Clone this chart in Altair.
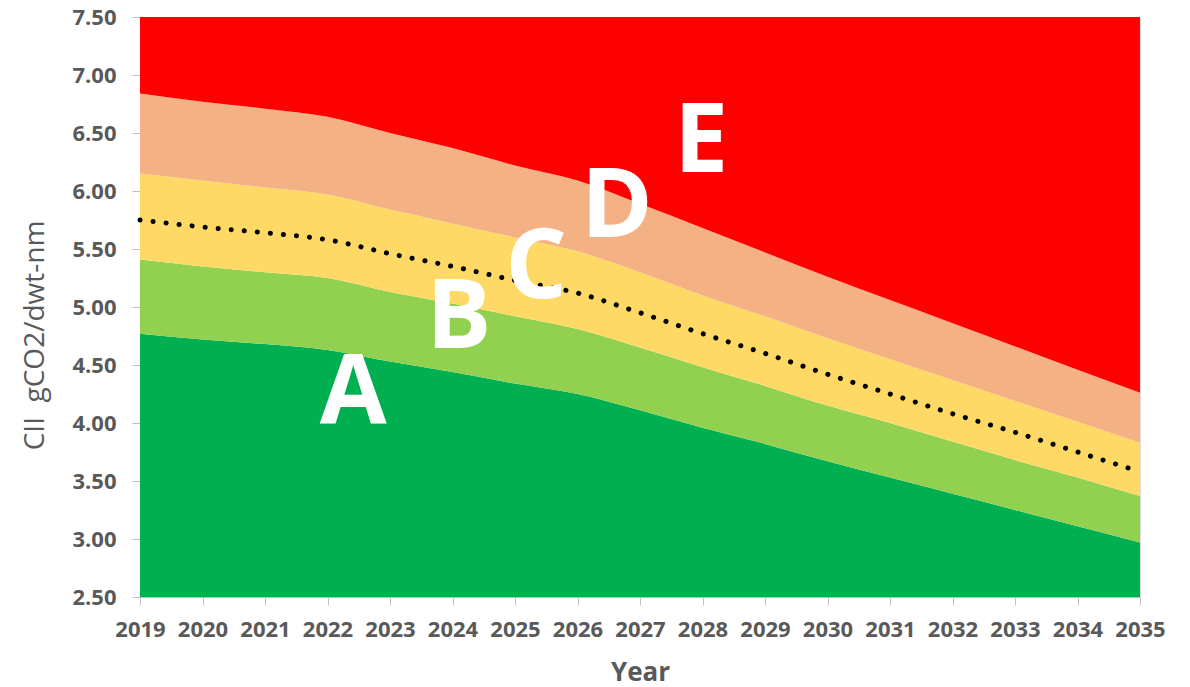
import altair as alt
import pandas as pd

years = list(range(2019, 2036))
required = [5.75, 5.69, 5.64, 5.58, 5.46, 5.35, 5.23, 5.12, 4.95, 4.77, 4.60, 4.42, 4.25, 4.08, 3.92, 3.75, 3.58]
a_upper = [4.77, 4.72, 4.68, 4.63, 4.53, 4.44, 4.34, 4.25, 4.11, 3.96, 3.82, 3.67, 3.53, 3.39, 3.25, 3.11, 2.97]
b_upper = [5.41, 5.35, 5.30, 5.25, 5.13, 5.03, 4.92, 4.81, 4.65, 4.48, 4.32, 4.15, 4.00, 3.84, 3.68, 3.53, 3.37]
c_upper = [6.15, 6.09, 6.03, 5.97, 5.84, 5.72, 5.60, 5.48, 5.30, 5.10, 4.92, 4.73, 4.55, 4.37, 4.19, 4.01, 3.83]
d_upper = [6.84, 6.77, 6.71, 6.64, 6.50, 6.37, 6.22, 6.09, 5.89, 5.68, 5.47, 5.26, 5.06, 4.86, 4.66, 4.46, 4.26]
y_bottom = 2.5
y_top = 7.5

bands = ["A", "B", "C", "D", "E"]
band_colors = ["#00B050", "#92D050", "#FFD966", "#F4B183", "#FF0000"]

label_text = ["A", "B", "C", "D", "E"]
label_x = [2022.41, 2024.10, 2025.34, 2026.63, 2027.98]
label_y = [4.24, 4.90, 5.33, 5.85, 6.41]

lows = [[y_bottom] * len(years), a_upper, b_upper, c_upper, d_upper]
highs = [a_upper, b_upper, c_upper, d_upper, [y_top] * len(years)]
rows = []
for bi, band in enumerate(bands):
    for i, yr in enumerate(years):
        rows.append({"band": band, "year": yr, "lo": lows[bi][i], "hi": highs[bi][i]})
band_df = pd.DataFrame(rows)
req_df = pd.DataFrame({"year": years, "required": required})
lab_df = pd.DataFrame({"label": label_text, "x": label_x, "y": label_y})

FONT = "Open Sans"
GREY = "#595959"

x_enc = alt.X(
    "year:Q",
    scale=alt.Scale(domain=[2019, 2035], nice=False, zero=False),
    axis=alt.Axis(
        values=years, format="d", title="Year", grid=False,
        labelFont=FONT, labelFontSize=22, labelFontWeight="bold", labelColor=GREY,
        labelPadding=14, tickSize=8, tickColor="#bfbfbf", domainColor="#bfbfbf",
        titleFont=FONT, titleFontSize=26, titleFontWeight="bold", titleColor=GREY,
        titleY=75, titleBaseline="middle", labelFlush=False,
    ),
)
y_scale = alt.Scale(domain=[y_bottom, y_top], nice=False, zero=False)
y_axis = alt.Axis(
    values=[2.5, 3.0, 3.5, 4.0, 4.5, 5.0, 5.5, 6.0, 6.5, 7.0, 7.5], format=".2f",
    title="CII\u00a0\u00a0gCO2/dwt-nm", grid=False,
    labelFont=FONT, labelFontSize=22, labelFontWeight="bold", labelColor=GREY,
    labelPadding=16, tickSize=8, tickColor="#bfbfbf", domainColor="#bfbfbf",
    titleFont=FONT, titleFontSize=28, titleFontWeight="normal", titleColor=GREY,
    titleX=-105, titleY=318, titleAngle=270, titleAlign="center", titleBaseline="middle",
    labelFlush=False,
)

areas = alt.Chart(band_df).mark_area(interpolate="monotone").encode(
    x=x_enc,
    y=alt.Y("lo:Q", scale=y_scale, axis=y_axis),
    y2="hi:Q",
    color=alt.Color("band:N", scale=alt.Scale(domain=bands, range=band_colors), legend=None),
)

line = alt.Chart(req_df).mark_line(
    color="black", strokeWidth=5, strokeDash=[0.1, 13], strokeCap="round", interpolate="monotone"
).encode(x="year:Q", y="required:Q")

labels = alt.Chart(lab_df).mark_text(
    font=FONT, fontWeight="bold", fontSize=97, color="white", align="center", baseline="middle"
).encode(x="x:Q", y="y:Q", text="label:N")

chart = alt.layer(areas, line, labels).properties(
    width=1000, height=580,
    autosize=alt.AutoSizeParams(type="none"),
    padding={"left": 140, "top": 17, "right": 50, "bottom": 90},
).configure_view(stroke=None).configure(background="white")

chart.save("out.html", embed_options={"renderer": "svg", "actions": False})
